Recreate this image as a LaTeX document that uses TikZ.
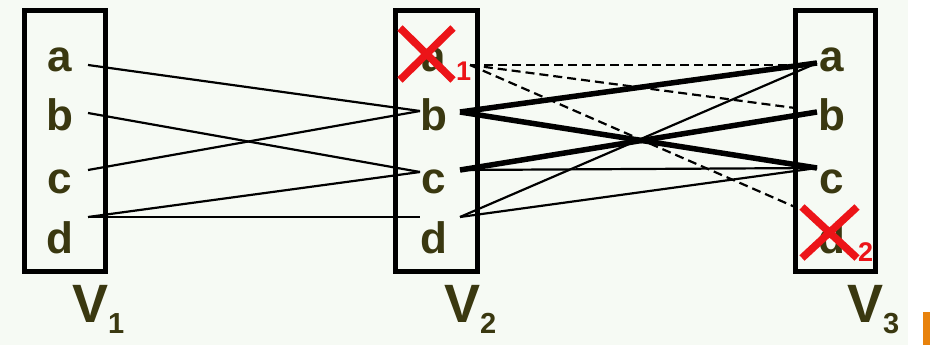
\documentclass[tikz,border=0pt]{standalone}
\usepackage{fontspec}
\setmainfont{Liberation Sans}
\definecolor{txt}{RGB}{58,56,16}
\definecolor{bg}{RGB}{246,250,244}
\definecolor{xred}{RGB}{236,20,24}
\definecolor{orng}{RGB}{232,130,12}
\begin{document}
\begin{tikzpicture}[x=1pt,y=-1pt,
  setbox/.style={draw=black,line width=5pt},
  letter/.style={anchor=base,inner sep=0pt,text=txt,font=\fontsize{44}{44}\selectfont\bfseries},
  vlabel/.style={anchor=base west,inner sep=0pt,text=txt,font=\fontsize{54}{54}\selectfont\bfseries},
  redsub/.style={anchor=base west,inner sep=0pt,text=xred,font=\fontsize{27}{27}\selectfont\bfseries},
  thin/.style={line width=2.2pt,black},
  thick/.style={line width=5.5pt,black},
  dsh/.style={line width=2.2pt,black,dash pattern=on 9pt off 5pt},
  cross/.style={xred,line width=7.5pt}]
\useasboundingbox (0,0) rectangle (930,345);
\fill[white] (0,0) rectangle (930,345);
\fill[bg] (0,0) rectangle (908,345);
\fill[orng] (923,312) rectangle (930,345);
% boxes
\draw[setbox] (24,10.5) rectangle (105,271);
\draw[setbox] (395.5,10.5) rectangle (477.5,271);
\draw[setbox] (795.5,10.5) rectangle (875.5,271);
% letters
\foreach \s/\x in {1/60,2/434,3/832}{
  \node[letter] (a\s) at (\x,72) {a};
  \node[letter] (b\s) at (\x,130) {b};
  \node[letter] (c\s) at (\x,193) {c};
  \node[letter] (d\s) at (\x,253) {d};
}
% labels
\node[vlabel] (V1) at (72,322) {V\raisebox{-11pt}{\fontsize{29}{29}\selectfont 1}};
\node[vlabel] (V2) at (444,322) {V\raisebox{-11pt}{\fontsize{29}{29}\selectfont 2}};
\node[vlabel] (V3) at (847,322) {V\raisebox{-11pt}{\fontsize{29}{29}\selectfont 3}};
% connector end points
\coordinate (Ra1) at (88,65);  \coordinate (Rb1) at (88,113);
\coordinate (Rc1) at (88,170); \coordinate (Rd1) at (88,217);
\coordinate (Lb2) at (420,111); \coordinate (Lc2) at (420,172);
\coordinate (Ld2) at (420,217);
\coordinate (Ra2) at (470,65);  \coordinate (Rb2) at (460,112);
\coordinate (Rc2) at (460,170); \coordinate (Rd2) at (460,217);
\coordinate (La3) at (817,63);  \coordinate (Lb3) at (817,112);
\coordinate (Lc3) at (817,168);
\coordinate (Da3) at (810,65);  \coordinate (Db3) at (795,108);
\coordinate (Dd3) at (795,207);
% V1 -> V2
\draw[thin] (Ra1) -- (Lb2);
\draw[thin] (Rb1) -- (Lc2);
\draw[thin] (Rc1) -- (Lb2);
\draw[thin] (Rd1) -- (Lc2);
\draw[thin] (Rd1) -- (Ld2);
% V2 -> V3
\draw[dsh] (Ra2) -- (Da3);
\draw[dsh] (Ra2) -- (Db3);
\draw[dsh] (Ra2) -- (Dd3);
\draw[thick] (Rb2) -- (La3);
\draw[thick] (Rb2) -- (Lc3);
\draw[thick] (Rc2) -- (Lb3);
\draw[thin] (Rc2) -- (Lc3);
\draw[thin] (Rd2) -- (La3);
\draw[thin] (Rd2) -- (Lc3);
% red crosses
\draw[cross] (400,28) -- (453,80) (453,28) -- (400,80);
\node[redsub] (s1) at (456,81) {1};
\draw[cross] (802,207) -- (857,258) (857,207) -- (802,258);
\node[redsub] (s2) at (858,261) {2};
\end{tikzpicture}
\end{document}
